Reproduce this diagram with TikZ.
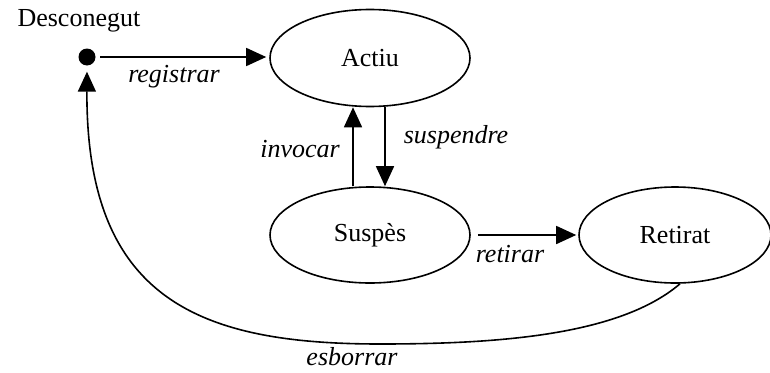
\documentclass[tikz,border=0pt]{standalone}
\usepackage{fontspec}
\setmainfont{Liberation Serif}
\usetikzlibrary{arrows.meta,shapes.geometric}
\begin{document}
\begin{tikzpicture}[x=1pt,y=-1pt,
  every node/.style={font=\fontsize{26}{30}\selectfont},
  state/.style={ellipse,draw,line width=1.6pt,inner sep=0pt},
  arr/.style={line width=1.6pt,-{Triangle[length=20pt,width=18pt]}},
  lbl/.style={anchor=base,font=\fontsize{26}{30}\selectfont\itshape}]
  \useasboundingbox (0,0) rectangle (770,372);

  % initial pseudo-state
  \node[anchor=base west] (nom) at (14,27) {Desconegut};
  \node[circle,fill,inner sep=0pt,minimum size=17pt] (ini) at (87,57) {};

  % states
  \node[state,minimum width=200pt,minimum height=97pt] (actiu) at (370,58) {Actiu};
  \node[state,minimum width=200pt,minimum height=96pt] (susp) at (370,235) {Susp\`es};
  \node[state,minimum width=192pt,minimum height=96pt] (ret) at (675,235) {Retirat};

  % transitions
  \draw[arr,shorten <=4.5pt,shorten >=3pt] (ini.east) -- (ini.east -| actiu.west);
  \draw[arr] ([xshift=-17pt]susp.north) -- ([xshift=-17pt]actiu.south);
  \draw[arr] ([xshift=15pt]actiu.south) -- ([xshift=15pt]susp.north);
  \draw[arr,shorten <=7pt,shorten >=2pt] (susp.east) -- (ret.west);
  \draw[arr,shorten >=6pt] ([xshift=5pt]ret.south)
    .. controls (620,335) and (500,344) .. (380,344)
    .. controls (200,344) and (86,300) .. (ini.south);

  % transition labels
  \node[lbl] (lreg) at (174,82) {registrar};
  \node[lbl] (linv) at (300,157) {invocar};
  \node[lbl] (lsus) at (456,143) {suspendre};
  \node[lbl] (lret) at (510,262) {retirar};
  \node[lbl] (lesb) at (352,365) {esborrar};
\end{tikzpicture}
\end{document}
